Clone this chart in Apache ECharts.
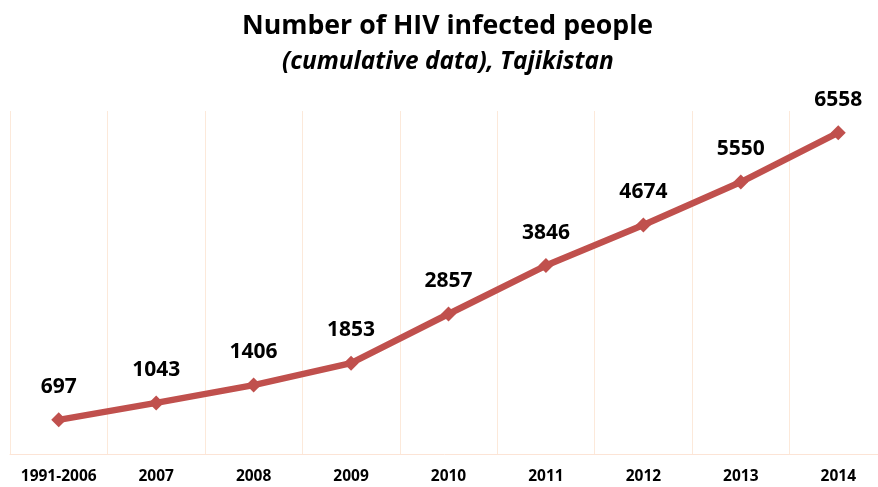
<!DOCTYPE html>
<html>
<head>
<meta charset="utf-8">
<script src="https://cdn.jsdelivr.net/npm/echarts@6/dist/echarts.min.js"></script>
<style>
  html, body { margin: 0; padding: 0; background: #fff; }
  #chart { width: 878px; height: 487px; }
</style>
</head>
<body>
<div id="chart"></div>
<script>
// Cumulative count of registered HIV cases
const categories = ['1991-2006', '2007', '2008', '2009', '2010', '2011', '2012', '2013', '2014'];
const infected = [697, 1043, 1406, 1853, 2857, 3846, 4674, 5550, 6558];

const titleText = 'Number of HIV infected people';
const subtitleText = '(cumulative data), Tajikistan';

const FONT = '"Open Sans", Lato, sans-serif';

const chart = echarts.init(document.getElementById('chart'), null, { renderer: 'canvas' });
chart.setOption({
  animation: false,
  backgroundColor: '#ffffff',
  // titles are centred over the full plot band, which extends past the right edge
  title: [
    {
      text: titleText,
      left: 237,
      top: 8,
      textStyle: { fontFamily: FONT, fontSize: 26.7, fontWeight: 'bold', color: '#000' }
    },
    {
      text: subtitleText,
      left: 277,
      top: 45,
      textStyle: { fontFamily: FONT, fontSize: 24.4, fontWeight: 'bold', fontStyle: 'italic', color: '#000' }
    }
  ],
  grid: { left: 10, top: 111, right: -9, bottom: 33, containLabel: false, outerBoundsMode: 'none' },
  xAxis: {
    type: 'category',
    data: categories,
    boundaryGap: true,
    axisLine: { show: true, lineStyle: { color: '#FCE4D6', width: 1 } },
    axisTick: { show: false, interval: 0 },
    splitLine: { show: true, interval: 0, lineStyle: { color: '#FCE9DA', width: 1 } },
    axisLabel: {
      interval: 0,
      hideOverlap: false,
      fontFamily: FONT, fontSize: 15.5, fontWeight: 'bold', color: '#000', margin: 15
    }
  },
  yAxis: {
    type: 'value',
    min: 0,
    max: 7000,
    show: false,
    splitLine: { show: false }
  },
  series: [{
    type: 'line',
    data: infected,
    symbol: 'diamond',
    symbolSize: 15,
    lineStyle: { color: '#C0504D', width: 6.5 },
    itemStyle: { color: '#C0504D' },
    label: {
      show: true,
      position: 'top',
      distance: 15,
      fontFamily: FONT,
      fontSize: 21,
      fontWeight: 'bold',
      color: '#000'
    }
  }]
});
</script>
</body>
</html>
